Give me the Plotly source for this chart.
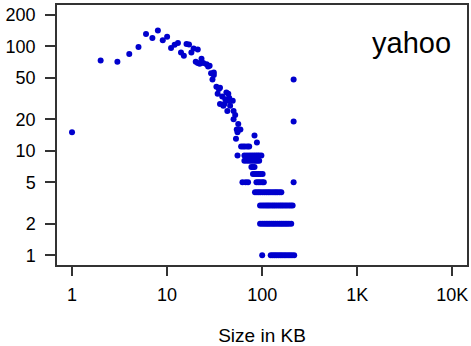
import plotly.graph_objects as go

# upper part of the curve: one point per size (KB) -> number of pages
peak_sizes = [1, 2, 3, 4, 5, 6, 7, 8, 9, 10, 11, 12, 13, 14, 15, 16, 17, 18, 19, 20,
              21, 21, 22, 23, 24, 26, 27, 28, 29, 30, 31, 31, 33, 34, 35, 36, 36, 38,
              39, 40, 41, 42, 43, 44, 44, 45, 46, 49, 50, 50, 52, 53, 54, 55, 56, 59,
              83, 88, 214, 214]
peak_counts = [15, 73, 71, 84, 98, 131, 120, 141, 114, 123, 96, 103, 107, 87, 81, 105, 104, 87, 95, 71,
               93, 69, 68, 76, 69, 67, 64, 65, 55, 48, 56, 53, 41, 35, 39, 40, 28, 33,
               27, 28, 31, 36, 24, 30, 35, 32, 27, 30, 24, 20, 22, 13, 16, 15, 18, 16,
               14, 12, 48, 19]

# the tail: sizes sharing the same small page count
tail_11 = [60, 63, 66, 70, 73]
tail_9 = [55, 65, 69, 73, 77, 81, 85, 89, 93, 98]
tail_8 = [65, 69, 73, 77, 81, 85, 89, 93]
tail_7 = [77, 80, 83]
tail_6 = [80, 84, 88, 92, 96, 101]
tail_5 = [62, 67, 71, 87, 91, 95, 100, 104, 214]
tail_4 = [84, 88, 92, 96, 101, 106, 111, 116, 121, 127, 133, 139, 145, 152, 159]
tail_3 = [95, 100, 105, 110, 115, 120, 126, 132, 138, 145, 152, 159, 166, 174, 182, 191, 200, 209]
tail_2 = [95, 100, 105, 110, 115, 120, 126, 132, 138, 145, 152, 159, 166, 174, 182, 191, 202]
tail_1 = [100, 123, 129, 135, 141, 148, 155, 162, 170, 178, 187, 196, 206, 217]

x_ticks = [1, 10, 100, 1000, 10000]
x_tick_text = ['1', '10', '100', '1K', '10K']
y_ticks = [1, 2, 5, 10, 20, 50, 100, 200]

xs = list(peak_sizes)
ys = list(peak_counts)
for cnt, row in [(11, tail_11), (9, tail_9), (8, tail_8), (7, tail_7), (6, tail_6),
                 (5, tail_5), (4, tail_4), (3, tail_3), (2, tail_2), (1, tail_1)]:
    xs += row
    ys += [cnt] * len(row)

fig = go.Figure()
fig.add_trace(go.Scatter(x=xs, y=ys, mode='markers',
                         marker=dict(color='#0000CD', size=6, line=dict(width=0)),
                         showlegend=False))

axis_style = dict(type='log', showgrid=False, zeroline=False, showline=True, mirror=True,
                  linecolor='#333333', linewidth=1.5, ticks='outside', tickcolor='#333333',
                  tickwidth=1.5, tickfont=dict(size=18, color='black'), automargin=False)

fig.update_xaxes(range=[-0.158, 4.154], tickvals=x_ticks, ticktext=x_tick_text,
                 ticklen=9, ticklabelstandoff=4,
                 title=dict(text='Size in KB', font=dict(size=19, color='black'), standoff=25),
                 **axis_style)
fig.update_yaxes(range=[-0.093, 2.394], tickvals=y_ticks, ticktext=[str(v) for v in y_ticks],
                 ticklen=10, ticklabelstandoff=6, **axis_style)

fig.add_annotation(text='yahoo', x=0.865, y=0.853, xref='paper', yref='paper',
                   xanchor='center', yanchor='middle', showarrow=False,
                   font=dict(size=29, color='black'))

fig.update_layout(width=471, height=346, margin=dict(l=57, r=4, t=5, b=81),
                  plot_bgcolor='white', paper_bgcolor='white',
                  font=dict(family='Liberation Sans, Arial, sans-serif'))

# page has a default 8px body margin; drop it so the figure sits at the corner
fig.write_html('out.html', config={'displayModeBar': False},
               post_script="document.body.style.margin='0';")
